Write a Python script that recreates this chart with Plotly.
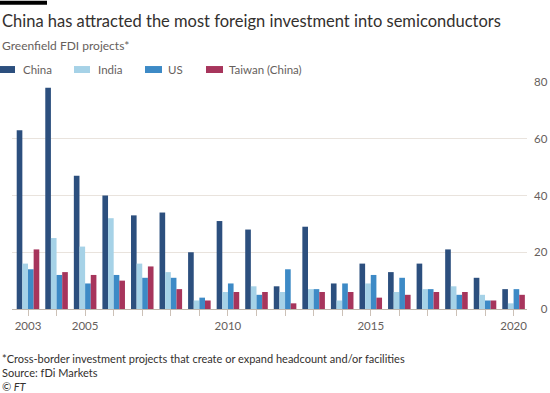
import plotly.graph_objects as go

years = list(range(2003, 2021))
series_names = ["China", "India", "US", "Taiwan (China)"]
china = [63, 78, 47, 40, 33, 34, 20, 31, 28, 8, 29, 9, 16, 13, 16, 21, 11, 7]
india = [16, 25, 22, 32, 16, 13, 3, 6, 8, 6, 7, 3, 9, 6, 7, 8, 5, 2]
us = [14, 12, 9, 12, 11, 11, 4, 9, 5, 14, 7, 9, 12, 11, 7, 5, 3, 7]
taiwan = [21, 13, 12, 10, 15, 7, 3, 6, 6, 2, 6, 6, 4, 5, 6, 6, 3, 5]
colors = ["#2c4f7e", "#a6d2e7", "#3d8ac6", "#a7355c"]
x_labeled = [2003, 2005, 2010, 2015, 2020]
y_ticks = [0, 20, 40, 60, 80]

W, H = 550, 393
ML, MR, MT, MB = 12, 23, 81.5, 84
PW = W - ML - MR
PH = H - MT - MB

def px(x):
    return (x - ML) / PW

def py(y):
    return (H - MB - y) / PH

FONT = "Lato"
fig = go.Figure()
for name, vals, c in zip(series_names, [china, india, us, taiwan], colors):
    fig.add_trace(go.Bar(x=years, y=vals, name=name, marker_color=c,
                         marker_line_width=0, showlegend=False))

ticktext = [str(y) if y in x_labeled else "" for y in years]

shapes = [dict(type="rect", xref="paper", yref="paper", x0=px(0), x1=px(47),
               y0=py(4), y1=py(0), fillcolor="#000000", line_width=0)]
annotations = []
# manual legend
sw_x = [(0, 15), (74, 90), (145, 162), (206, 223)]
tx_x = [21, 96, 166, 227]
for (a, b), t, name, c in zip(sw_x, tx_x, series_names, colors):
    shapes.append(dict(type="rect", xref="paper", yref="paper", x0=px(a), x1=px(b),
                       y0=py(72.5), y1=py(65.5), fillcolor=c, line_width=0))
    annotations.append(dict(text=name, xref="paper", yref="paper", x=px(t), y=py(69),
                            xanchor="left", yanchor="middle", showarrow=False,
                            font=dict(family=FONT, size=11.5, color="#66605c")))

annotations += [
    dict(text="China has attracted the most foreign investment into semiconductors",
         xref="paper", yref="paper", x=px(0), y=py(20), xanchor="left", yanchor="middle",
         showarrow=False, font=dict(family=FONT, size=16.5, color="#33302e")),
    dict(text="Greenfield FDI projects*", xref="paper", yref="paper", x=px(0), y=py(45),
         xanchor="left", yanchor="middle", showarrow=False,
         font=dict(family=FONT, size=12, color="#66605c")),
    dict(text="*Cross-border investment projects that create or expand headcount and/or facilities",
         xref="paper", yref="paper", x=px(0), y=py(359), xanchor="left", yanchor="middle",
         showarrow=False, font=dict(family=FONT, size=11, color="#33302e")),
    dict(text="Source: fDi Markets", xref="paper", yref="paper", x=px(0), y=py(373),
         xanchor="left", yanchor="middle", showarrow=False,
         font=dict(family=FONT, size=11, color="#33302e")),
    dict(text="<i>© FT</i>", xref="paper", yref="paper", x=px(0), y=py(387),
         xanchor="left", yanchor="middle", showarrow=False,
         font=dict(family=FONT, size=11, color="#33302e")),
]

fig.update_layout(
    width=W, height=H, margin=dict(l=ML, r=MR, t=MT, b=MB, autoexpand=False),
    paper_bgcolor="white", plot_bgcolor="white",
    barmode="group", bargap=0.21, bargroupgap=0,
    shapes=shapes, annotations=annotations,
    xaxis=dict(range=[2002.44, 2020.47], tickvals=years, ticktext=ticktext,
               ticks="outside", ticklen=6, tickcolor="#ccc1b7", showgrid=False,
               showline=True, linecolor="#bfb6ad", linewidth=1,
               tickfont=dict(family=FONT, size=11.5, color="#66605c"), zeroline=False),
    yaxis=dict(range=[0, 80], side="right", tickvals=y_ticks,
               ticktext=["\u2007" + str(v) if v < 10 else str(v) for v in y_ticks],
               showgrid=True, gridcolor="#e9e3dd", gridwidth=1, zeroline=False,
               ticks="", ticklabelstandoff=6,
               tickfont=dict(family=FONT, size=11.5, color="#66605c")),
)

fig.write_html("out.html", config={"displayModeBar": False},
               post_script="document.body.style.margin='0px';")
